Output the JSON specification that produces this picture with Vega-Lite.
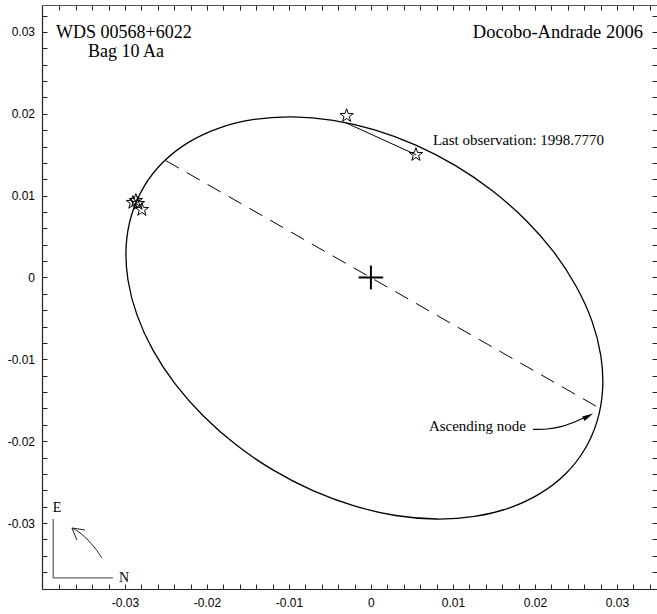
{
  "$schema": "https://vega.github.io/schema/vega-lite/v6.json",
  "width": 615,
  "height": 584,
  "autosize": {"type": "none"},
  "padding": {"left": 42, "top": 5, "right": 0, "bottom": 25},
  "background": "white",
  "config": {
    "view": {"stroke": null},
    "axis": {
      "grid": false,
      "tickSize": -5,
      "tickColor": "#222",
      "tickWidth": 1,
      "domainColor": "#222",
      "domainWidth": 1.2,
      "labelFont": "Liberation Sans",
      "labelFontSize": 12,
      "labelColor": "black",
      "labelOverlap": false,
      "labelFlush": false,
      "labelBound": false,
      "title": null
    }
  },
  "resolve": {"axis": {"x": "independent", "y": "independent"}},
  "layer": [
    {
      "description": "apparent orbit",
      "data": {"values": [
        {"t": 0, "x": 0.02608, "y": -0.02099},
        {"t": 10, "x": 0.02760, "y": -0.01752},
        {"t": 20, "x": 0.02826, "y": -0.01366},
        {"t": 30, "x": 0.02804, "y": -0.00954},
        {"t": 40, "x": 0.02694, "y": -0.00527},
        {"t": 50, "x": 0.02499, "y": -0.00101},
        {"t": 60, "x": 0.02227, "y": 0.00315},
        {"t": 70, "x": 0.01884, "y": 0.00706},
        {"t": 80, "x": 0.01481, "y": 0.01060},
        {"t": 90, "x": 0.01032, "y": 0.01367},
        {"t": 100, "x": 0.00548, "y": 0.01617},
        {"t": 110, "x": 0.00046, "y": 0.01803},
        {"t": 120, "x": -0.00461, "y": 0.01920},
        {"t": 130, "x": -0.00956, "y": 0.01963},
        {"t": 140, "x": -0.01424, "y": 0.01931},
        {"t": 150, "x": -0.01851, "y": 0.01826},
        {"t": 160, "x": -0.02225, "y": 0.01651},
        {"t": 170, "x": -0.02533, "y": 0.01410},
        {"t": 180, "x": -0.02767, "y": 0.01111},
        {"t": 190, "x": -0.02919, "y": 0.00764},
        {"t": 200, "x": -0.02985, "y": 0.00378},
        {"t": 210, "x": -0.02962, "y": -0.00034},
        {"t": 220, "x": -0.02852, "y": -0.00460},
        {"t": 230, "x": -0.02658, "y": -0.00887},
        {"t": 240, "x": -0.02385, "y": -0.01303},
        {"t": 250, "x": -0.02043, "y": -0.01693},
        {"t": 260, "x": -0.01640, "y": -0.02048},
        {"t": 270, "x": -0.01190, "y": -0.02354},
        {"t": 280, "x": -0.00707, "y": -0.02605},
        {"t": 290, "x": -0.00204, "y": -0.02791},
        {"t": 300, "x": 0.00302, "y": -0.02908},
        {"t": 310, "x": 0.00797, "y": -0.02951},
        {"t": 320, "x": 0.01265, "y": -0.02919},
        {"t": 330, "x": 0.01693, "y": -0.02814},
        {"t": 340, "x": 0.02066, "y": -0.02638},
        {"t": 350, "x": 0.02375, "y": -0.02398}
      ]},
      "mark": {"type": "line", "interpolate": "cardinal-closed", "color": "black", "strokeWidth": 1.3},
      "encoding": {
        "x": {"field": "x", "type": "quantitative",
              "scale": {"domain": [-0.04011, 0.03489], "nice": false, "zero": false},
              "axis": {"orient": "bottom",
                       "values": [-0.038, -0.036, -0.034, -0.032, -0.03, -0.028, -0.026, -0.024, -0.022, -0.02, -0.018, -0.016, -0.014, -0.012, -0.01, -0.008, -0.006, -0.004, -0.002, 0, 0.002, 0.004, 0.006, 0.008, 0.01, 0.012, 0.014, 0.016, 0.018, 0.02, 0.022, 0.024, 0.026, 0.028, 0.03, 0.032, 0.034],
                       "labelPadding": 13,
                       "labelBaseline": "top",
                       "labelExpr": "abs(datum.value * 100 - round(datum.value * 100)) < 0.01 ? (datum.value < -0.0001 ? '-' + format(-datum.value, '.2~f') : format(abs(datum.value), '.2~f')) : ''"}},
        "y": {"field": "y", "type": "quantitative",
              "scale": {"domain": [-0.03806, 0.03329], "nice": false, "zero": false},
              "axis": {"orient": "left",
                       "values": [-0.038, -0.036, -0.034, -0.032, -0.03, -0.028, -0.026, -0.024, -0.022, -0.02, -0.018, -0.016, -0.014, -0.012, -0.01, -0.008, -0.006, -0.004, -0.002, 0, 0.002, 0.004, 0.006, 0.008, 0.01, 0.012, 0.014, 0.016, 0.018, 0.02, 0.022, 0.024, 0.026, 0.028, 0.03, 0.032],
                       "labelPadding": 12.5,
                       "labelExpr": "abs(datum.value * 100 - round(datum.value * 100)) < 0.01 ? (datum.value < -0.0001 ? '-' + format(-datum.value, '.2~f') : format(abs(datum.value), '.2~f')) : ''"}},
        "order": {"field": "t", "type": "quantitative"}
      }
    },
    {
      "description": "line of nodes",
      "data": {"values": [{"x": -0.02500, "y": 0.01427, "x2": 0.02768, "y2": -0.01585}]},
      "mark": {"type": "rule", "color": "black", "strokeWidth": 1, "strokeDash": [15, 9]},
      "encoding": {
        "x": {"field": "x", "type": "quantitative",
              "scale": {"domain": [-0.04011, 0.03489], "nice": false, "zero": false},
              "axis": {"orient": "top", "labels": false, "domainColor": "#555",
                       "values": [-0.038, -0.036, -0.034, -0.032, -0.03, -0.028, -0.026, -0.024, -0.022, -0.02, -0.018, -0.016, -0.014, -0.012, -0.01, -0.008, -0.006, -0.004, -0.002, 0, 0.002, 0.004, 0.006, 0.008, 0.01, 0.012, 0.014, 0.016, 0.018, 0.02, 0.022, 0.024, 0.026, 0.028, 0.03, 0.032, 0.034]}},
        "y": {"field": "y", "type": "quantitative",
              "scale": {"domain": [-0.03806, 0.03329], "nice": false, "zero": false},
              "axis": {"orient": "right", "labels": false, "domain": false,
                       "values": [-0.038, -0.036, -0.034, -0.032, -0.03, -0.028, -0.026, -0.024, -0.022, -0.02, -0.018, -0.016, -0.014, -0.012, -0.01, -0.008, -0.006, -0.004, -0.002, 0, 0.002, 0.004, 0.006, 0.008, 0.01, 0.012, 0.014, 0.016, 0.018, 0.02, 0.022, 0.024, 0.026, 0.028, 0.03, 0.032]}},
        "x2": {"field": "x2"},
        "y2": {"field": "y2"}
      }
    },
    {
      "description": "primary star marker",
      "data": {"values": [
        {"x": -0.0015, "y": 0, "x2": 0.0015, "y2": 0},
        {"x": 0, "y": -0.00146, "x2": 0, "y2": 0.00146}
      ]},
      "mark": {"type": "rule", "color": "black", "strokeWidth": 2},
      "encoding": {
        "x": {"field": "x", "type": "quantitative", "axis": null, "scale": {"domain": [-0.04011, 0.03489], "nice": false, "zero": false}},
        "y": {"field": "y", "type": "quantitative", "axis": null, "scale": {"domain": [-0.03806, 0.03329], "nice": false, "zero": false}},
        "x2": {"field": "x2"},
        "y2": {"field": "y2"}
      }
    },
    {
      "description": "residual of the last observation",
      "data": {"values": [{"x": -0.00305, "y": 0.01890, "x2": 0.00549, "y2": 0.01500}]},
      "mark": {"type": "rule", "color": "black", "strokeWidth": 1},
      "encoding": {
        "x": {"field": "x", "type": "quantitative", "axis": null, "scale": {"domain": [-0.04011, 0.03489], "nice": false, "zero": false}},
        "y": {"field": "y", "type": "quantitative", "axis": null, "scale": {"domain": [-0.03806, 0.03329], "nice": false, "zero": false}},
        "x2": {"field": "x2"},
        "y2": {"field": "y2"}
      }
    },
    {
      "description": "observations",
      "data": {"values": [
        {"x": -0.02902, "y": 0.00915},
        {"x": -0.02866, "y": 0.00939},
        {"x": -0.02841, "y": 0.00902},
        {"x": -0.02793, "y": 0.00829},
        {"x": -0.00296, "y": 0.01976},
        {"x": 0.00549, "y": 0.01500}
      ]},
      "mark": {"type": "point", "shape": "M0,-1L0.235,-0.324L0.951,-0.309L0.38,0.124L0.588,0.809L0,0.4L-0.588,0.809L-0.38,0.124L-0.951,-0.309L-0.235,-0.324Z",
               "filled": false, "stroke": "black", "strokeWidth": 1, "size": 196, "opacity": 1},
      "encoding": {
        "x": {"field": "x", "type": "quantitative", "axis": null, "scale": {"domain": [-0.04011, 0.03489], "nice": false, "zero": false}},
        "y": {"field": "y", "type": "quantitative", "axis": null, "scale": {"domain": [-0.03806, 0.03329], "nice": false, "zero": false}}
      }
    },
    {
      "description": "ascending node pointer",
      "data": {"values": [
        {"i": 0, "x": 0.01976, "y": -0.01857},
        {"i": 1, "x": 0.02146, "y": -0.01851},
        {"i": 2, "x": 0.02305, "y": -0.01826},
        {"i": 3, "x": 0.02451, "y": -0.01778},
        {"i": 4, "x": 0.02598, "y": -0.01713}
      ]},
      "mark": {"type": "line", "interpolate": "cardinal", "color": "black", "strokeWidth": 1.2},
      "encoding": {
        "x": {"field": "x", "type": "quantitative", "axis": null, "scale": {"domain": [-0.04011, 0.03489], "nice": false, "zero": false}},
        "y": {"field": "y", "type": "quantitative", "axis": null, "scale": {"domain": [-0.03806, 0.03329], "nice": false, "zero": false}},
        "order": {"field": "i", "type": "quantitative"}
      }
    },
    {
      "data": {"values": [{"x": 0.02651, "y": -0.01694}]},
      "mark": {"type": "point", "shape": "M1,0L-1,-0.45L-1,0.45Z", "filled": true, "color": "black", "opacity": 1, "size": 121, "angle": 332},
      "encoding": {
        "x": {"field": "x", "type": "quantitative", "axis": null, "scale": {"domain": [-0.04011, 0.03489], "nice": false, "zero": false}},
        "y": {"field": "y", "type": "quantitative", "axis": null, "scale": {"domain": [-0.03806, 0.03329], "nice": false, "zero": false}}
      }
    },
    {
      "description": "orientation corner",
      "data": {"values": [
        {"i": 0, "x": -0.03874, "y": -0.02951},
        {"i": 1, "x": -0.03874, "y": -0.03671},
        {"i": 2, "x": -0.03146, "y": -0.03671}
      ]},
      "mark": {"type": "line", "color": "#666", "strokeWidth": 1.3},
      "encoding": {
        "x": {"field": "x", "type": "quantitative", "axis": null, "scale": {"domain": [-0.04011, 0.03489], "nice": false, "zero": false}},
        "y": {"field": "y", "type": "quantitative", "axis": null, "scale": {"domain": [-0.03806, 0.03329], "nice": false, "zero": false}},
        "order": {"field": "i", "type": "quantitative"}
      }
    },
    {
      "description": "sense of motion",
      "data": {"values": [
        {"i": 0, "x": -0.03280, "y": -0.03427},
        {"i": 1, "x": -0.03366, "y": -0.03305},
        {"i": 2, "x": -0.03463, "y": -0.03195},
        {"i": 3, "x": -0.03561, "y": -0.03110},
        {"i": 4, "x": -0.03646, "y": -0.03061}
      ]},
      "mark": {"type": "line", "interpolate": "cardinal", "color": "#222", "strokeWidth": 1},
      "encoding": {
        "x": {"field": "x", "type": "quantitative", "axis": null, "scale": {"domain": [-0.04011, 0.03489], "nice": false, "zero": false}},
        "y": {"field": "y", "type": "quantitative", "axis": null, "scale": {"domain": [-0.03806, 0.03329], "nice": false, "zero": false}},
        "order": {"field": "i", "type": "quantitative"}
      }
    },
    {
      "data": {"values": [
        {"i": 0, "x": -0.03488, "y": -0.03085},
        {"i": 1, "x": -0.03646, "y": -0.03061},
        {"i": 2, "x": -0.03585, "y": -0.03207}
      ]},
      "mark": {"type": "line", "color": "#222", "strokeWidth": 1},
      "encoding": {
        "x": {"field": "x", "type": "quantitative", "axis": null, "scale": {"domain": [-0.04011, 0.03489], "nice": false, "zero": false}},
        "y": {"field": "y", "type": "quantitative", "axis": null, "scale": {"domain": [-0.03806, 0.03329], "nice": false, "zero": false}},
        "order": {"field": "i", "type": "quantitative"}
      }
    },
    {
      "data": {"values": [
        {"x": -0.03827, "y": -0.02862, "label": "E"},
        {"x": -0.03010, "y": -0.03716, "label": "N"}
      ]},
      "mark": {"type": "text", "font": "Liberation Serif", "fontSize": 14, "align": "center", "baseline": "alphabetic", "color": "black"},
      "encoding": {
        "x": {"field": "x", "type": "quantitative", "axis": null, "scale": {"domain": [-0.04011, 0.03489], "nice": false, "zero": false}},
        "y": {"field": "y", "type": "quantitative", "axis": null, "scale": {"domain": [-0.03806, 0.03329], "nice": false, "zero": false}},
        "text": {"field": "label"}
      }
    },
    {
      "data": {"values": [
        {"x": -0.03012, "y": 0.02921, "label": "WDS 00568+6022"},
        {"x": -0.02988, "y": 0.02695, "label": "Bag 10 Aa"}
      ]},
      "mark": {"type": "text", "font": "Liberation Serif", "fontSize": 18, "align": "center", "baseline": "alphabetic", "color": "black"},
      "encoding": {
        "x": {"field": "x", "type": "quantitative", "axis": null, "scale": {"domain": [-0.04011, 0.03489], "nice": false, "zero": false}},
        "y": {"field": "y", "type": "quantitative", "axis": null, "scale": {"domain": [-0.03806, 0.03329], "nice": false, "zero": false}},
        "text": {"field": "label"}
      }
    },
    {
      "data": {"values": [{"x": 0.03317, "y": 0.02927, "label": "Docobo-Andrade 2006"}]},
      "mark": {"type": "text", "font": "Liberation Serif", "fontSize": 18.5, "align": "right", "baseline": "alphabetic", "color": "black"},
      "encoding": {
        "x": {"field": "x", "type": "quantitative", "axis": null, "scale": {"domain": [-0.04011, 0.03489], "nice": false, "zero": false}},
        "y": {"field": "y", "type": "quantitative", "axis": null, "scale": {"domain": [-0.03806, 0.03329], "nice": false, "zero": false}},
        "text": {"field": "label"}
      }
    },
    {
      "data": {"values": [
        {"x": 0.00756, "y": 0.01616, "label": "Last observation: 1998.7770"},
        {"x": 0.00707, "y": -0.01872, "label": "Ascending node"}
      ]},
      "mark": {"type": "text", "font": "Liberation Serif", "fontSize": 15, "align": "left", "baseline": "alphabetic", "color": "black"},
      "encoding": {
        "x": {"field": "x", "type": "quantitative", "axis": null, "scale": {"domain": [-0.04011, 0.03489], "nice": false, "zero": false}},
        "y": {"field": "y", "type": "quantitative", "axis": null, "scale": {"domain": [-0.03806, 0.03329], "nice": false, "zero": false}},
        "text": {"field": "label"}
      }
    }
  ]
}
